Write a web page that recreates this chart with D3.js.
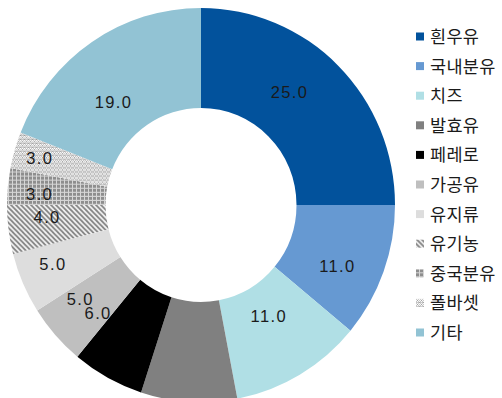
<!DOCTYPE html>
<html>
<head>
<meta charset="utf-8">
<script src="https://cdn.jsdelivr.net/npm/d3@7"></script>
<style>
  html, body { margin: 0; padding: 0; background: #fff; }
  svg { display: block; }
</style>
</head>
<body>
<svg id="chart" width="502" height="398"></svg>
<script>
// Category names and shares (%)
const categories = ["흰우유", "국내분유", "치즈", "발효유", "페레로", "가공유", "유지류", "유기농", "중국분유", "폴바셋", "기타"];
const values = [25, 11, 11, 8, 6, 5, 5, 4, 3, 3, 19];
const showLabel = [true, true, true, false, true, true, true, true, true, true, true];

// Fills: plain colours or pattern ids
const fills = ["#02529c", "#6699d2", "#b0dfe5", "#808080", "#000000", "#bfbfbf", "#dddddd",
               "url(#pStripe)", "url(#pGrid)", "url(#pDots)", "#92c3d4"];

// Manual label nudges (px) from the ring centroid
const labelNudge = [[-14, -10], [0, 12], [-6, -14], [0, 0], [-33, -19], [-12, -2], [-15, 2], [-10, -6], [-17, 3], [-22, -6], [-6, 17]];

const svg = d3.select("#chart");
const defs = svg.append("defs");

// Diagonal stripes
const ps = defs.append("pattern").attr("id", "pStripe").attr("patternUnits", "userSpaceOnUse")
  .attr("width", 5).attr("height", 5);
ps.append("rect").attr("width", 5).attr("height", 5).attr("fill", "#f2f2f2");
ps.append("path").attr("d", "M-1,-1 L6,6 M-1,4 L1,6 M4,-1 L6,1")
  .attr("stroke", "#858585").attr("stroke-width", 1.8);

// Small grid
const pg = defs.append("pattern").attr("id", "pGrid").attr("patternUnits", "userSpaceOnUse")
  .attr("width", 4).attr("height", 4);
pg.append("rect").attr("width", 4).attr("height", 4).attr("fill", "#8e8e8e");
pg.append("rect").attr("x", 3).attr("width", 1).attr("height", 4).attr("fill", "#d6d6d6");
pg.append("rect").attr("y", 3).attr("width", 4).attr("height", 1).attr("fill", "#d6d6d6");

// Dotted diamonds (fine crosshatch look)
const pd = defs.append("pattern").attr("id", "pDots").attr("patternUnits", "userSpaceOnUse")
  .attr("width", 4).attr("height", 4);
pd.append("rect").attr("width", 4).attr("height", 4).attr("fill", "#c4c4c4");
pd.append("path").attr("d", "M1,0 h1 v1 h-1z M0,1 h1 v1 h-1z M2,1 h1 v1 h-1z M1,2 h1 v1 h-1z M3,2 h1 v1 h-1z M3,0 h1 v1 h-1z")
  .attr("fill", "#ffffff");
pd.append("path").attr("d", "M1,1 h1 v1 h-1z M3,3 h1 v1 h-1z")
  .attr("fill", "#9a9a9a");

// Donut geometry
const cx = 201, cy = 205;
const outerR = 194, innerR = 95.5, squash = 1.016;

const pie = d3.pie().value(d => d).sort(null);
const arcs = pie(values);
const arc = d3.arc().innerRadius(innerR).outerRadius(outerR);
const labelArc = d3.arc().innerRadius(145).outerRadius(145);

const g = svg.append("g").attr("transform", `translate(${cx},${cy}) scale(1,${squash})`);
g.selectAll("path.slice").data(arcs).join("path")
  .attr("class", "slice")
  .attr("d", arc)
  .attr("fill", (d, i) => fills[i]);

// Value labels
svg.append("g").selectAll("text").data(arcs.filter((d, i) => showLabel[i])).join("text")
  .attr("x", d => cx + labelArc.centroid(d)[0] + labelNudge[d.index][0])
  .attr("y", d => cy + labelArc.centroid(d)[1] + labelNudge[d.index][1])
  .attr("dy", "0.35em")
  .attr("text-anchor", "middle")
  .attr("font-family", "'Liberation Sans', Arial, sans-serif")
  .attr("font-size", 16.5)
  .attr("letter-spacing", 1.4)
  .attr("fill", "#1a1a1a")
  .text(d => d.data.toFixed(1));

// Legend
const legendY = d3.scalePoint().domain(categories).range([36.5, 332.5]);
const lg = svg.append("g");
const items = lg.selectAll("g").data(categories).join("g")
  .attr("transform", d => `translate(416,${legendY(d)})`);
items.append("rect").attr("x", 0).attr("y", -4).attr("width", 8).attr("height", 8)
  .attr("fill", (d, i) => fills[i]);
items.append("text").attr("x", 14).attr("dy", "0.37em")
  .attr("font-family", "'Noto Sans CJK KR', 'Noto Sans', sans-serif")
  .attr("font-size", 17.5)
  .attr("letter-spacing", 0.3)
  .attr("fill", "#1a1a1a")
  .text(d => d);
</script>
</body>
</html>
